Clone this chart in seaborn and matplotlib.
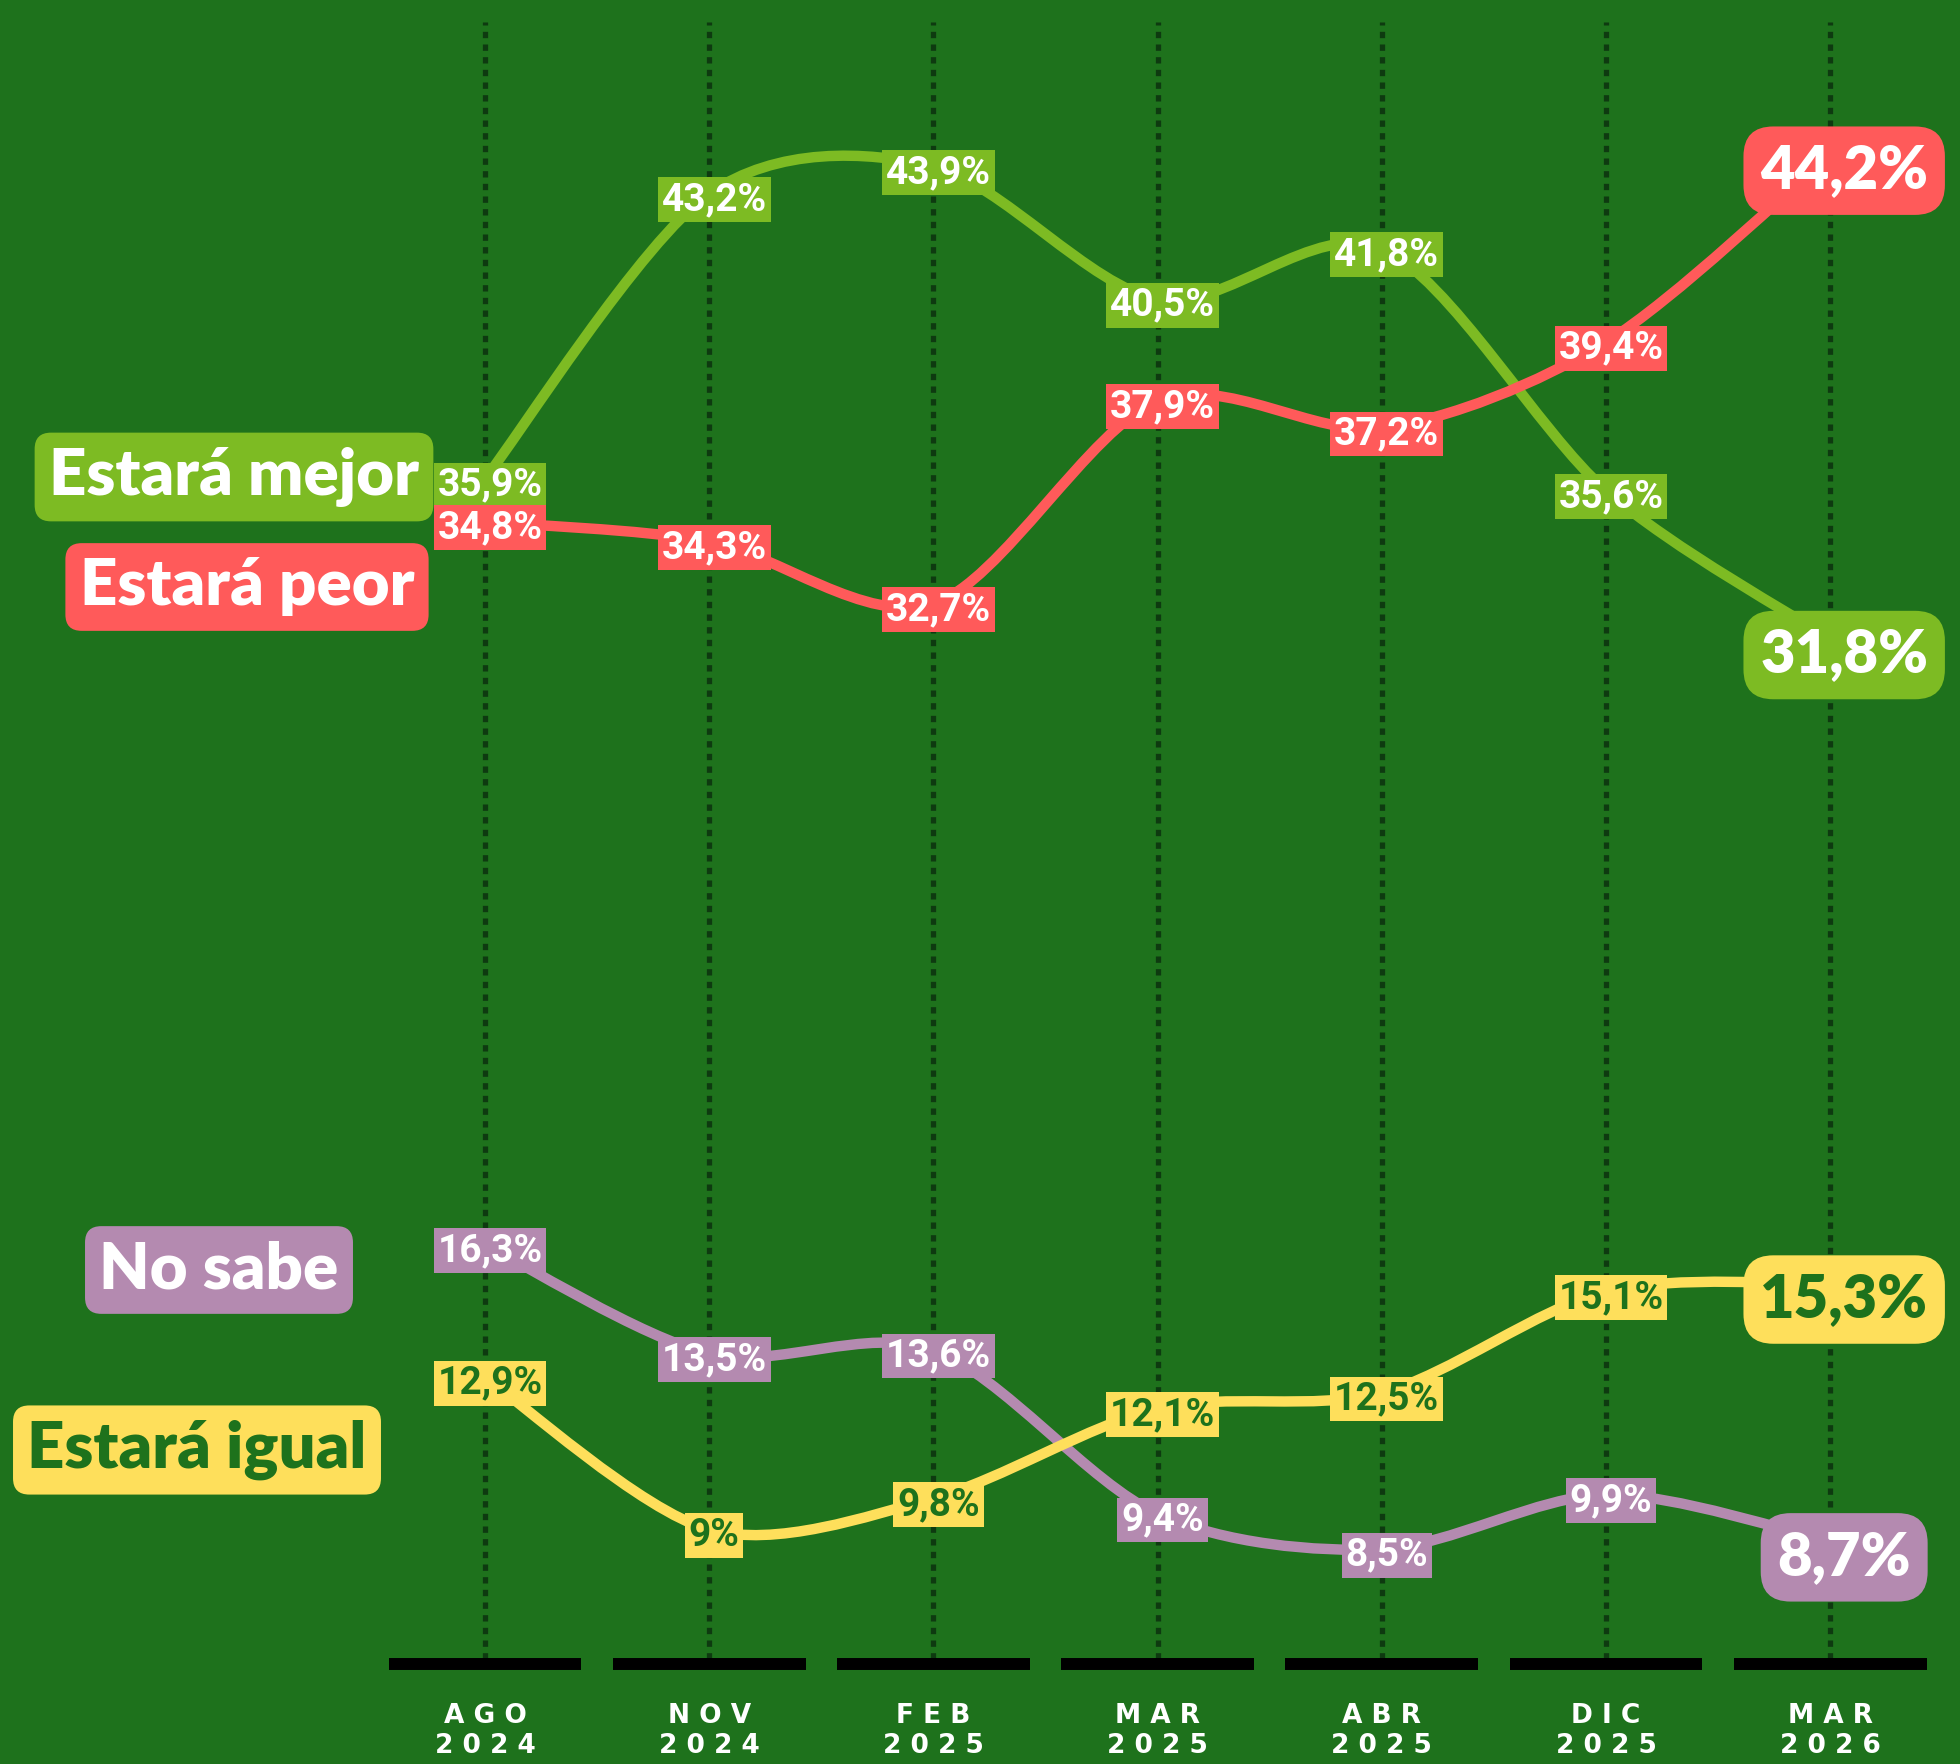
import matplotlib.pyplot as plt
import numpy as np
import pandas as pd
import seaborn as sns
from matplotlib.path import Path
from matplotlib.patches import PathPatch

# Data
periods = ['AGO\n2024', 'NOV\n2024', 'FEB\n2025', 'MAR\n2025', 'ABR\n2025', 'DIC\n2025', 'MAR\n2026']
mejor = [35.9, 43.2, 43.9, 40.5, 41.8, 35.6, 31.8]
peor = [34.8, 34.3, 32.7, 37.9, 37.2, 39.4, 44.2]
no_sabe = [16.3, 13.5, 13.6, 9.4, 8.5, 9.9, 8.7]
igual = [12.9, 9.0, 9.8, 12.1, 12.5, 15.1, 15.3]

series = ['Estará mejor', 'Estará peor', 'No sabe', 'Estará igual']
values = [mejor, peor, no_sabe, igual]

BG = '#1E721C'
colors = {'Estará mejor': '#7DBB23', 'Estará peor': '#FF5A5A',
          'No sabe': '#B48AB0', 'Estará igual': '#FEDF5B'}
text_colors = {'Estará mejor': 'white', 'Estará peor': 'white',
               'No sabe': 'white', 'Estará igual': BG}

df = pd.DataFrame({'idx': np.tile(np.arange(len(periods)), len(series)),
                   'serie': np.repeat(series, len(periods)),
                   'value': np.concatenate(values)})

sns.set_theme(style='white')
plt.rcParams['font.family'] = ['Roboto', 'DejaVu Sans']

W, H = 1960, 1764
fig = plt.figure(figsize=(W / 100, H / 100), dpi=100)
fig.patch.set_facecolor(BG)
ax = fig.add_axes([0, 0, 1, 1])

x = np.arange(len(periods))

# dotted guides and bottom bars
ax.vlines(x, 5.7, 47.6, color='#0E3A10', lw=3.8, linestyles=(0, (1.2, 1.2)), zorder=1)
ax.hlines(np.full(len(x), 5.55), x - 0.43, x + 0.43, color='black', lw=8.6, zorder=2)


def smooth_path(xs, ys, k=0.15):
    pts = np.column_stack([xs, ys]).astype(float)
    verts, codes = [pts[0]], [Path.MOVETO]
    n = len(pts)
    for i in range(n - 1):
        p0 = pts[i - 1] if i > 0 else pts[i]
        p1, p2 = pts[i], pts[i + 1]
        p3 = pts[i + 2] if i + 2 < n else pts[i + 1]
        verts += [p1 + (p2 - p0) * k, p2 - (p3 - p1) * k, p2]
        codes += [Path.CURVE4] * 3
    return Path(verts, codes)


for name, vals in zip(series, values):
    ax.add_patch(PathPatch(smooth_path(x, vals), fc='none', ec=colors[name],
                           lw=7.5, capstyle='round', zorder=3))

sns.scatterplot(data=df, x='idx', y='value', hue='serie', palette=colors,
                s=260, edgecolor='none', legend=False, zorder=3, ax=ax)
ax.set_facecolor(BG)
ax.set_xlim(-2.163, 6.579)
ax.set_ylim(3.0, 48.16)
ax.axis('off')


def fmt(v):
    s = f'{v:.1f}'.replace('.', ',')
    return (s[:-2] if s.endswith(',0') else s) + '%'


for name, vals in zip(series, values):
    for i, v in enumerate(vals):
        if i == len(vals) - 1:
            ax.annotate(fmt(v), (i, v), xytext=(14, -16), textcoords='offset pixels',
                        ha='center', va='center', fontsize=43, fontweight='heavy',
                        family=['Lato', 'Roboto'],
                        color=text_colors[name], zorder=6,
                        bbox=dict(boxstyle='round,pad=0.28,rounding_size=0.5',
                                  fc=colors[name], ec='none'))
        else:
            ax.annotate(fmt(v), (i, v), xytext=(5, -6), textcoords='offset pixels',
                        ha='center', va='center', fontsize=28, fontweight='bold',
                        color=text_colors[name], zorder=5,
                        bbox=dict(boxstyle='square,pad=0.1', fc=colors[name], ec='none'))

# series names
legend_pos = {'Estará mejor': (234, 477), 'Estará peor': (247, 587),
              'No sabe': (219, 1270), 'Estará igual': (197, 1450)}
for name, (px, py) in legend_pos.items():
    fig.text(px / W, 1 - py / H, name, ha='center', va='center', fontsize=47,
             fontweight='heavy', family=['Lato', 'Roboto'], color=text_colors[name],
             bbox=dict(boxstyle='round,pad=0.22,rounding_size=0.25',
                       fc=colors[name], ec='none'))

# period labels
for i, p in enumerate(periods):
    txt = '\n'.join(' '.join(part) for part in p.split('\n'))
    ax.text(i, 3.85, txt, ha='center', va='center', fontsize=19, fontweight='bold',
            color='white', family='DejaVu Sans', linespacing=1.2)

fig.savefig('out.png', dpi=100, facecolor=BG)
